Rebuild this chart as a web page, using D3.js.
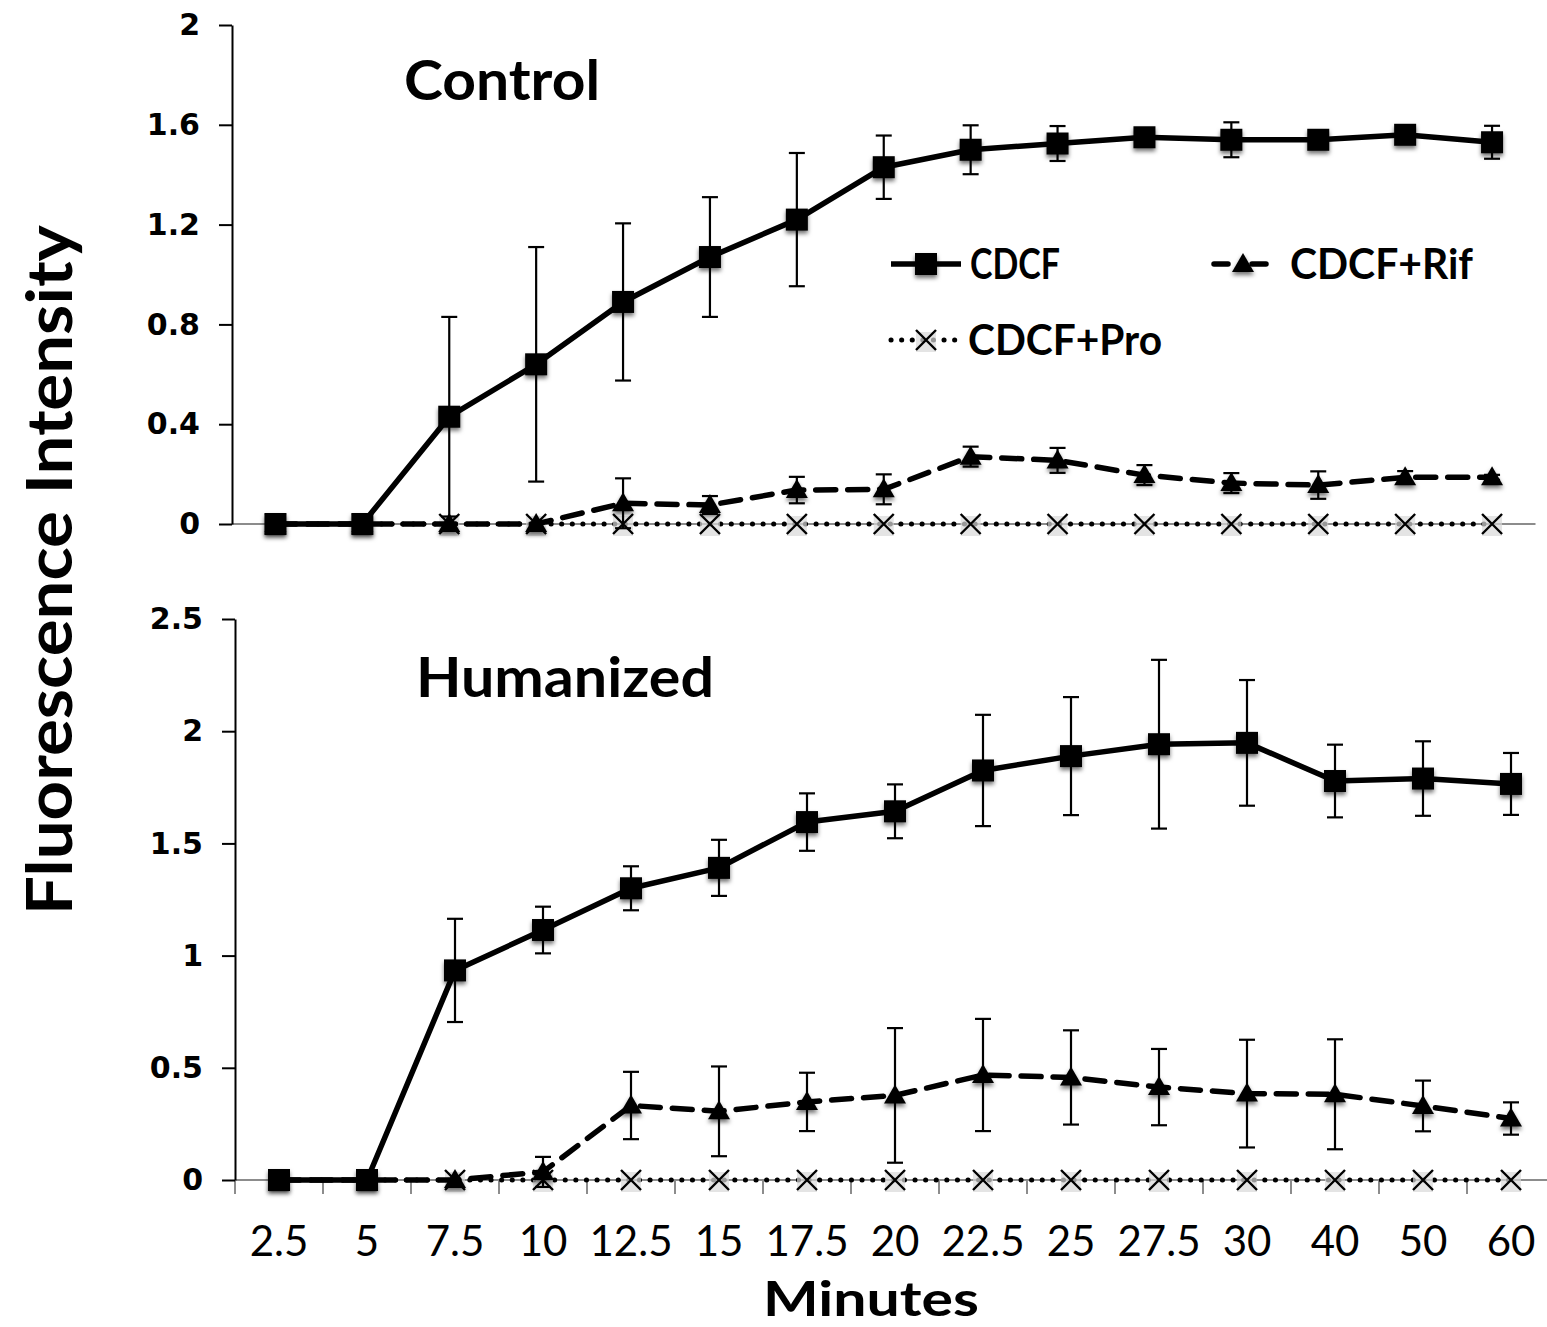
<!DOCTYPE html>
<html>
<head>
<meta charset="utf-8">
<script src="https://cdn.jsdelivr.net/npm/d3@7"></script>
<style>
  html, body { margin: 0; padding: 0; background: #fff; }
  svg { display: block; }
</style>
</head>
<body>
<svg id="chart" width="1547" height="1327"></svg>
<script>
// ---------------- data ----------------
const categories = ["2.5","5","7.5","10","12.5","15","17.5","20","22.5","25","27.5","30","40","50","60"];

const controlCDCF    = [0, 0, 0.43, 0.64, 0.89, 1.07, 1.22, 1.43, 1.50, 1.525, 1.55, 1.54, 1.54, 1.56, 1.53];
const controlCDCFErr = [0, 0, 0.40, 0.47, 0.315, 0.24, 0.267, 0.127, 0.098, 0.07, 0.02, 0.07, 0.02, 0.02, 0.066];
const controlRif     = [0, 0, 0, 0, 0.083, 0.076, 0.136, 0.139, 0.27, 0.255, 0.196, 0.164, 0.156, 0.187, 0.187];
const controlRifErr  = [0, 0, 0, 0, 0.10, 0.036, 0.053, 0.06, 0.04, 0.05, 0.04, 0.04, 0.055, 0.025, 0.01];
const controlPro     = [0, 0, 0, 0, 0, 0, 0, 0, 0, 0, 0, 0, 0, 0, 0];

const humanCDCF      = [0, 0, 0.934, 1.114, 1.30, 1.391, 1.595, 1.643, 1.825, 1.889, 1.942, 1.948, 1.778, 1.789, 1.765];
const humanCDCFErr   = [0, 0, 0.23, 0.104, 0.098, 0.125, 0.128, 0.12, 0.248, 0.263, 0.376, 0.28, 0.162, 0.166, 0.138];
const humanRif       = [0, 0, 0, 0.036, 0.332, 0.306, 0.348, 0.377, 0.468, 0.457, 0.414, 0.385, 0.382, 0.33, 0.274];
const humanRifErr    = [0, 0, 0, 0.067, 0.15, 0.2, 0.13, 0.30, 0.25, 0.21, 0.17, 0.24, 0.245, 0.113, 0.072];
const humanPro       = [0, 0, 0, 0, 0, 0, 0, 0, 0, 0, 0, 0, 0, 0, 0];

const controlTicks = [0, 0.4, 0.8, 1.2, 1.6, 2];
const humanTicks   = [0, 0.5, 1, 1.5, 2, 2.5];
const seriesNames  = ["CDCF", "CDCF+Rif", "CDCF+Pro"];

// ---------------- setup ----------------
const svg = d3.select("#chart");
const defs = svg.append("defs");
const f = defs.append("filter").attr("id", "shadow")
  .attr("x", "-50%").attr("y", "-50%").attr("width", "200%").attr("height", "200%");
f.append("feDropShadow").attr("dx", 0).attr("dy", 3).attr("stdDeviation", 2)
  .attr("flood-color", "#000").attr("flood-opacity", 0.55);

const titleFont = "Lato, 'Open Sans', sans-serif";
const tickFont = "'DejaVu Sans', sans-serif";

const styles = {
  cdcf: { dash: null, width: 5.5, cap: "butt" },
  rif:  { dash: "20 12", width: 5.5, cap: "round" },
  pro:  { dash: "0.1 10.5", width: 5, cap: "round" }
};

function marker(g, type, x, y) {
  if (type === "cdcf") {
    g.append("rect").attr("x", x - 11).attr("y", y - 11).attr("width", 22).attr("height", 22)
      .attr("fill", "#000").attr("filter", "url(#shadow)");
  } else if (type === "rif") {
    g.append("path").attr("d", `M${x},${y - 11} L${x + 11},${y + 8} L${x - 11},${y + 8} Z`)
      .attr("fill", "#000").attr("filter", "url(#shadow)");
  } else {
    const s = 10;
    g.append("rect").attr("x", x - s).attr("y", y - s + 2).attr("width", 2 * s).attr("height", 2 * s)
      .attr("fill", "#d9d9d9").attr("opacity", 0.7);
    g.append("path").attr("d", `M${x - s},${y - s} L${x + s},${y + s} M${x + s},${y - s} L${x - s},${y + s}`)
      .attr("stroke", "#000").attr("stroke-width", 2.4).attr("fill", "none");
  }
}

function panel(opts) {
  const { x0, x1, yTop, yBot, yMax, ticks, series, title, titleX, titleY, titleLen, bottomTicks } = opts;
  const x = d3.scaleBand().domain(categories).range([x0, x1]).paddingInner(0).paddingOuter(0);
  const y = d3.scaleLinear().domain([0, yMax]).range([yBot, yTop]);
  const cx = c => x(c) + x.bandwidth() / 2;
  const g = svg.append("g");

  g.append("line").attr("x1", x0).attr("x2", Math.min(x1, 1547)).attr("y1", y(0)).attr("y2", y(0))
    .attr("stroke", "#8c8c8c").attr("stroke-width", 2);
  if (bottomTicks) {
    const bounds = categories.map(c => x(c)).concat([x1]);
    g.selectAll(".xt").data(bounds).enter().append("line")
      .attr("x1", d => d).attr("x2", d => d).attr("y1", y(0)).attr("y2", y(0) + 14)
      .attr("stroke", "#8c8c8c").attr("stroke-width", 2);
  }

  const ax = g.append("g").attr("transform", `translate(${x0},0)`)
    .call(d3.axisLeft(y).tickValues(ticks).tickSize(13).tickSizeOuter(0).tickPadding(19)
      .tickFormat(d => String(d)));
  ax.select(".domain").attr("stroke", "#000").attr("stroke-width", 2);
  ax.selectAll(".tick line").attr("stroke", "#000").attr("stroke-width", 2);
  ax.selectAll(".tick text").attr("font-family", tickFont).attr("font-weight", "bold")
    .attr("font-size", 30).attr("fill", "#000");

  series.forEach(s => {
    const st = styles[s.type];
    const sg = g.append("g");
    categories.forEach((c, i) => {
      const e = s.err ? s.err[i] : 0;
      if (e > 0) {
        const xc = cx(c);
        sg.append("line").attr("x1", xc).attr("x2", xc).attr("y1", y(s.values[i] - e)).attr("y2", y(s.values[i] + e))
          .attr("stroke", "#000").attr("stroke-width", 2.2);
        [s.values[i] - e, s.values[i] + e].forEach(v => {
          sg.append("line").attr("x1", xc - 8).attr("x2", xc + 8).attr("y1", y(v)).attr("y2", y(v))
            .attr("stroke", "#000").attr("stroke-width", 2.2);
        });
      }
    });
    const line = d3.line().x((d, i) => cx(categories[i])).y(d => y(d));
    sg.append("path").datum(s.values).attr("d", line).attr("fill", "none")
      .attr("stroke", "#000").attr("stroke-width", st.width)
      .attr("stroke-dasharray", st.dash).attr("stroke-linecap", st.cap).attr("stroke-linejoin", "round");
    s.values.forEach((v, i) => marker(sg, s.type, cx(categories[i]), y(v)));
  });

  g.append("text").attr("x", titleX).attr("y", titleY).text(title)
    .attr("font-family", titleFont).attr("font-weight", "bold").attr("font-size", 56)
    .attr("textLength", titleLen).attr("lengthAdjust", "spacingAndGlyphs")
    .attr("fill", "#000");
  return { x, y };
}

panel({
  x0: 232, x1: 232 + 15 * 86.9, yTop: 25, yBot: 524, yMax: 2, ticks: controlTicks,
  series: [
    { type: "pro", values: controlPro },
    { type: "rif", values: controlRif, err: controlRifErr },
    { type: "cdcf", values: controlCDCF, err: controlCDCFErr }
  ],
  title: "Control", titleX: 404, titleY: 100, titleLen: 196, bottomTicks: false
});

const bottom = panel({
  x0: 235, x1: 235 + 15 * 88, yTop: 619, yBot: 1180, yMax: 2.5, ticks: humanTicks,
  series: [
    { type: "pro", values: humanPro },
    { type: "rif", values: humanRif, err: humanRifErr },
    { type: "cdcf", values: humanCDCF, err: humanCDCFErr }
  ],
  title: "Humanized", titleX: 416, titleY: 697, titleLen: 298, bottomTicks: true
});

svg.append("g").selectAll("text").data(categories).enter().append("text")
  .attr("x", d => bottom.x(d) + bottom.x.bandwidth() / 2).attr("y", 1256)
  .attr("text-anchor", "middle").attr("font-family", titleFont).attr("font-size", 42)
  .attr("fill", "#000").text(d => d);

svg.append("text").attr("x", 871).attr("y", 1316).attr("text-anchor", "middle")
  .attr("font-family", titleFont).attr("font-weight", "bold").attr("font-size", 48)
  .attr("textLength", 216).attr("lengthAdjust", "spacingAndGlyphs")
  .attr("fill", "#000").text("Minutes");
svg.append("text").attr("transform", "translate(72,570) rotate(-90)").attr("text-anchor", "middle")
  .attr("font-family", titleFont).attr("font-weight", "bold").attr("font-size", 64)
  .attr("textLength", 690).attr("lengthAdjust", "spacingAndGlyphs")
  .attr("fill", "#000").text("Fluorescence Intensity");

const legendItems = [
  { type: "cdcf", name: seriesNames[0], lx: 891, ly: 264, tx: 970, len: 90 },
  { type: "rif",  name: seriesNames[1], lx: 1214, ly: 264, tx: 1290, len: 183 },
  { type: "pro",  name: seriesNames[2], lx: 891, ly: 340, tx: 968, len: 194 }
];
const lg = svg.append("g");
legendItems.forEach(it => {
  const st = styles[it.type];
  const lw = it.type === "rif" ? 58 : 70;
  lg.append("line").attr("x1", it.lx).attr("x2", it.lx + lw).attr("y1", it.ly).attr("y2", it.ly)
    .attr("stroke", "#000").attr("stroke-width", st.width)
    .attr("stroke-dasharray", it.type === "rif" ? "14 24" : st.dash).attr("stroke-linecap", st.cap);
  marker(lg, it.type, it.lx + lw / 2, it.ly);
  lg.append("text").attr("x", it.tx).attr("y", it.ly + 15).text(it.name)
    .attr("font-family", titleFont).attr("font-weight", "bold").attr("font-size", 42)
    .attr("textLength", it.len).attr("lengthAdjust", "spacingAndGlyphs").attr("fill", "#000");
});
</script>
</body>
</html>
